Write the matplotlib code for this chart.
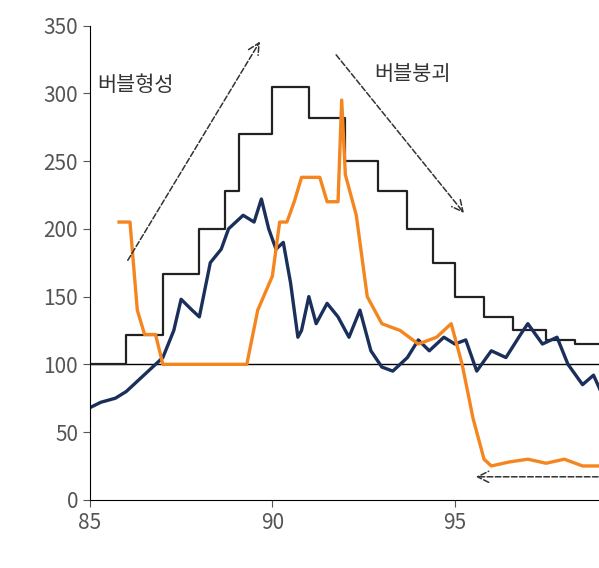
import matplotlib.pyplot as plt

plt.rcParams['font.family'] = ['Noto Sans CJK KR', 'DejaVu Sans']

# 계단형 지수 (검정)
step_x = [85.0, 86.0, 87.0, 88.0, 88.7, 89.1, 90.0, 91.0, 92.0, 92.9, 93.7, 94.4, 95.0, 95.8, 96.6, 97.5, 98.3, 99.0]
step_y = [100, 122, 167, 200, 228, 270, 305, 282, 250, 228, 200, 175, 150, 135, 125, 118, 115, 115]

# 남색 라인
navy_x = [85.0, 85.3, 85.7, 86.0, 86.4, 86.8, 87.0, 87.3, 87.5, 87.8, 88.0, 88.3, 88.6, 88.8, 89.2, 89.5, 89.7, 89.9, 90.1, 90.3, 90.5, 90.7, 90.8, 91.0, 91.2, 91.5, 91.8, 92.1, 92.4, 92.7, 93.0, 93.3, 93.7, 94.0, 94.3, 94.7, 95.0, 95.3, 95.6, 96.0, 96.4, 96.8, 97.0, 97.4, 97.8, 98.1, 98.5, 98.8, 99.0]
navy_y = [68, 72, 75, 80, 90, 100, 105, 125, 148, 140, 135, 175, 185, 200, 210, 205, 222, 200, 185, 190, 160, 120, 125, 150, 130, 145, 135, 120, 140, 110, 98, 95, 105, 118, 110, 120, 115, 118, 95, 110, 105, 122, 130, 115, 120, 100, 85, 92, 80]

# 주황 라인
orange_x = [85.8, 86.1, 86.3, 86.5, 86.8, 87.0, 89.3, 89.6, 90.0, 90.2, 90.4, 90.6, 90.8, 91.3, 91.5, 91.8, 91.9, 92.0, 92.3, 92.6, 93.0, 93.5, 94.0, 94.5, 94.9, 95.0, 95.2, 95.5, 95.8, 96.0, 96.5, 97.0, 97.5, 98.0, 98.5, 99.0]
orange_y = [205, 205, 140, 122, 122, 100, 100, 140, 165, 205, 205, 220, 238, 238, 220, 220, 295, 240, 210, 150, 130, 125, 115, 120, 130, 120, 100, 60, 30, 25, 28, 30, 27, 30, 25, 25]

fig, ax = plt.subplots(figsize=(5.99, 5.68), dpi=100)
fig.subplots_adjust(left=0.15, right=1.0, top=0.955, bottom=0.12)

ax.axhline(100, color='black', lw=1)
ax.step(step_x, step_y, where='post', color='#222222', lw=1.6)
ax.plot(navy_x, navy_y, color='#1b2f5b', lw=2.4)
ax.plot(orange_x, orange_y, color='#f5861f', lw=2.4)

arrow = dict(arrowstyle='->', linestyle='--', color='#333333', lw=1.1, mutation_scale=20)
ax.annotate('', xy=(89.7, 340), xytext=(86.0, 175), arrowprops=arrow)
ax.annotate('', xy=(95.3, 210), xytext=(91.7, 330), arrowprops=arrow)
ax.annotate('', xy=(95.5, 17), xytext=(99.0, 17), arrowprops=arrow)

ax.text(85.2, 306, '버블형성', fontsize=15, color='#333333', va='center')
ax.text(92.8, 314, '버블붕괴', fontsize=15, color='#333333', va='center')

ax.set_xlim(85, 98.95)
ax.set_ylim(0, 350)
ax.set_xticks([85, 90, 95])
ax.set_yticks(range(0, 351, 50))
ax.tick_params(labelsize=15, colors='#555555', length=5)
ax.spines['top'].set_visible(False)
ax.spines['right'].set_visible(False)

plt.savefig('out.png')
